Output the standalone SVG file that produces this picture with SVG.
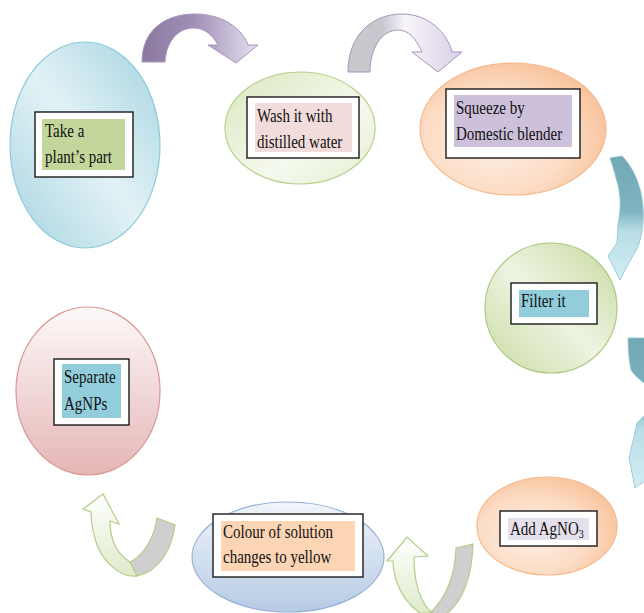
<svg xmlns="http://www.w3.org/2000/svg" width="644" height="613" viewBox="0 0 644 613">
<style>
  .t { font-family: "Liberation Serif", "Times New Roman", serif; font-size: 15px; fill: #111; }
  .box { fill: #fff; stroke: #1a1a1a; stroke-width: 1.4; }
  .arrowP { stroke: #a796bf; stroke-width: 1; }
  .arrowT { stroke: #8cc3cf; stroke-width: 0.8; }
  .arrowG { stroke: #b5cd88; stroke-width: 1.2; }
</style>
<defs>
  <linearGradient id="gBlue1" x1="1" y1="0" x2="0" y2="1">
    <stop offset="0" stop-color="#a3d3e0"/>
    <stop offset="0.5" stop-color="#e2f2f6"/>
    <stop offset="1" stop-color="#a6d4e1"/>
  </linearGradient>
  <linearGradient id="gGreen2" x1="0" y1="0" x2="1" y2="1">
    <stop offset="0" stop-color="#d9e7bf"/>
    <stop offset="0.6" stop-color="#f5f9ee"/>
    <stop offset="1" stop-color="#e4eed2"/>
  </linearGradient>
  <radialGradient id="gOrange" cx="0.4" cy="0.6" r="0.65">
    <stop offset="0" stop-color="#fef0e6"/>
    <stop offset="0.6" stop-color="#fcdcc4"/>
    <stop offset="1" stop-color="#f8c29a"/>
  </radialGradient>
  <linearGradient id="gGreen4" x1="1" y1="0" x2="0" y2="1">
    <stop offset="0" stop-color="#c5d89d"/>
    <stop offset="0.5" stop-color="#eef4e2"/>
    <stop offset="1" stop-color="#c8daa2"/>
  </linearGradient>
  <linearGradient id="gBlue6" x1="0" y1="0" x2="0" y2="1">
    <stop offset="0" stop-color="#f1f5fb"/>
    <stop offset="1" stop-color="#b6cbe4"/>
  </linearGradient>
  <linearGradient id="gPink7" x1="0" y1="0" x2="0" y2="1">
    <stop offset="0" stop-color="#fdf9f9"/>
    <stop offset="1" stop-color="#e5b6b5"/>
  </linearGradient>
  <linearGradient id="gArrP1" x1="0" y1="0" x2="1" y2="0">
    <stop offset="0" stop-color="#8a789f"/>
    <stop offset="0.45" stop-color="#a08fb6"/>
    <stop offset="1" stop-color="#e6e0ef"/>
  </linearGradient>
  <linearGradient id="gArrP2" x1="0" y1="0" x2="1" y2="0">
    <stop offset="0" stop-color="#c8c8c8"/>
    <stop offset="0.3" stop-color="#c9c6cf"/>
    <stop offset="0.5" stop-color="#f7f5fa"/>
    <stop offset="1" stop-color="#d8cfe6"/>
  </linearGradient>
  <linearGradient id="gArrT" x1="0" y1="0" x2="0" y2="1">
    <stop offset="0" stop-color="#72a8b3"/>
    <stop offset="0.45" stop-color="#7fb5c1"/>
    <stop offset="0.6" stop-color="#b7dde6"/>
    <stop offset="1" stop-color="#d3edf3"/>
  </linearGradient>
  <linearGradient id="gArrG" x1="0" y1="0" x2="0" y2="1">
    <stop offset="0" stop-color="#ffffff"/>
    <stop offset="1" stop-color="#dfeacb"/>
  </linearGradient>
</defs>

<g id="connectors">
  <path class="arrowP" fill="url(#gArrP1)" d="M142,62 C142,30 165,14 195,14 C222,14 242,28 248,45 L258,45 L236,63 L208,45 L218,45 C212,34 204,28 193,28 C178,28 166,42 165,62 Z"/>
  <path class="arrowP" fill="url(#gArrP2)" d="M348,72 C348,35 372,14 402,14 C428,14 447,32 452,52 L462,52 L438,72 L412,52 L422,52 C416,38 408,30 398,30 C382,30 370,48 370,72 Z"/>
  <path class="arrowT" fill="url(#gArrT)" d="M610,158 L622,156 C636,170 645,195 643,222 C642,236 639,246 634,254 L626,268 L620,280 L608,256 L617,243 L618,224 C622,206 620,190 616,178 C614,170 612,164 610,158 Z"/>
  <path class="arrowT" fill="url(#gArrT)" d="M628,338 L660,338 L660,470 L635,488 L629,458 L637,423 L655,405 L655,392 C646,384 636,378 631,370 C629,360 628,350 628,338 Z"/>
  <path class="arrowG" fill="#cfcfcf" d="M456,548 L473,544 C472,578 462,603 446,614 L429,614 C444,600 455,578 456,548 Z"/>
  <path class="arrowG" fill="url(#gArrG)" d="M387,561 L407,537 L428,556 L414,557 C414,583 420,602 432,613 L420,613 C408,605 400,592 396,580 C394,572 393,566 393,561 Z"/>
  <path class="arrowG" fill="#cfcfcf" d="M157,518 L175,525 C172,550 158,572 137,576 L128,563 C142,557 154,540 157,518 Z"/>
  <path class="arrowG" fill="url(#gArrG)" d="M83,509 L103,494 L119,524 L110,521 C110,540 117,554 130,562 L137,576 C120,578 104,562 97,545 C93,533 91,520 91,512 Z"/>
</g>

<g id="node-take">
  <ellipse cx="85" cy="145" rx="75" ry="103" fill="url(#gBlue1)" stroke="#8ccad9" stroke-width="1.2"/>
  <rect class="box" x="35" y="112" width="98" height="65"/>
  <rect x="42" y="119" width="83" height="51" fill="#c3d69b"/>
  <text class="t" transform="translate(45,137) scale(1,1.25)">Take a</text>
  <text class="t" transform="translate(45,163) scale(1,1.25)">plant’s part</text>
</g>

<g id="node-wash">
  <ellipse cx="300" cy="128" rx="75" ry="56" fill="url(#gGreen2)" stroke="#b8d08e" stroke-width="1.2"/>
  <rect class="box" x="247" y="97" width="112" height="61"/>
  <rect x="255" y="103" width="97" height="49" fill="#f2dcdb"/>
  <text class="t" transform="translate(257,122) scale(1,1.25)">Wash it with</text>
  <text class="t" transform="translate(257,148) scale(1,1.25)">distilled water</text>
</g>

<g id="node-squeeze">
  <ellipse cx="513" cy="129" rx="93" ry="66" fill="url(#gOrange)" stroke="#f5b98c" stroke-width="1.2"/>
  <rect class="box" x="446" y="89" width="134" height="69"/>
  <rect x="454" y="95" width="118" height="52" fill="#ccc0da"/>
  <text class="t" transform="translate(456,114) scale(1,1.25)">Squeeze by</text>
  <text class="t" transform="translate(456,140) scale(1,1.25)">Domestic blender</text>
</g>

<g id="node-filter">
  <ellipse cx="551" cy="308" rx="66" ry="65" fill="url(#gGreen4)" stroke="#b0c983" stroke-width="1.2"/>
  <rect class="box" x="511" y="283" width="86" height="41"/>
  <rect x="519" y="290" width="70" height="27" fill="#92cddc"/>
  <text class="t" transform="translate(521,307) scale(1,1.25)">Filter it</text>
</g>

<g id="node-add">
  <ellipse cx="547" cy="526" rx="70" ry="49" fill="url(#gOrange)" stroke="#f5b98c" stroke-width="1.2"/>
  <rect class="box" x="500" y="511" width="97" height="35"/>
  <rect x="508" y="518" width="81" height="22" fill="#e5e0ec"/>
  <text class="t" transform="translate(510,535) scale(1,1.25)">Add AgNO<tspan font-size="10" dy="2.5">3</tspan></text>
</g>

<g id="node-colour">
  <ellipse cx="288" cy="557" rx="96" ry="55" fill="url(#gBlue6)" stroke="#95b3d7" stroke-width="1.2"/>
  <rect class="box" x="213" y="514" width="150" height="63"/>
  <rect x="221" y="521" width="134" height="50" fill="#fcd5b5"/>
  <text class="t" transform="translate(223,538) scale(1,1.25)">Colour of solution</text>
  <text class="t" transform="translate(223,563) scale(1,1.25)">changes to yellow</text>
</g>

<g id="node-separate">
  <ellipse cx="88" cy="391" rx="72" ry="84" fill="url(#gPink7)" stroke="#d99694" stroke-width="1.2"/>
  <rect class="box" x="54" y="359" width="75" height="66"/>
  <rect x="62" y="364" width="59" height="54" fill="#92cddc"/>
  <text class="t" transform="translate(64,383) scale(1,1.25)">Separate</text>
  <text class="t" transform="translate(64,410) scale(1,1.25)">AgNPs</text>
</g>
</svg>
